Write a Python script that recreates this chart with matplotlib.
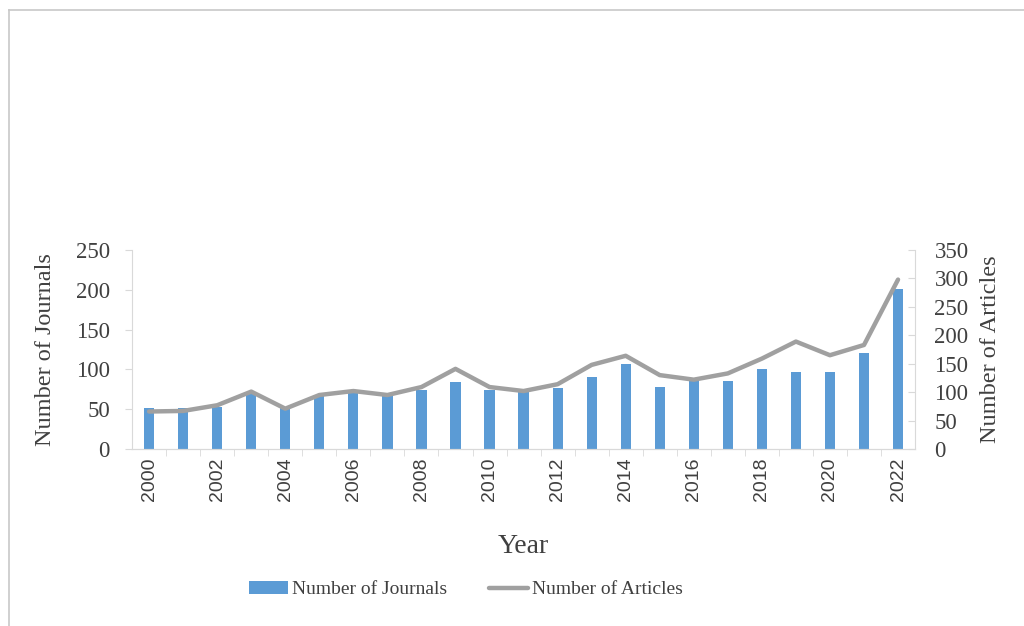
import matplotlib
matplotlib.use("Agg")
import matplotlib.pyplot as plt
from matplotlib.lines import Line2D

years = list(range(2000, 2023))
journals = [52, 51, 53, 69, 51, 68, 72, 66, 74, 84, 74, 73, 77, 91, 107, 78, 87, 85, 100, 97, 97, 121, 201]
articles = [66, 67, 77, 101, 71, 95, 102, 95, 109, 141, 109, 102, 114, 148, 164, 130, 122, 133, 159, 189, 165, 183, 298]

serif = "Liberation Serif"
sans = "Liberation Sans"
axis_gray = "#d9d9d9"
text_col = "#404040"

fig = plt.figure(figsize=(10.24, 6.26), dpi=100)
ax = fig.add_axes([0.129, 0.2827, 0.7646, 0.3179])
ax2 = ax.twinx()

x = list(range(len(years)))
bars = ax.bar(x, journals, width=0.3, color="#5b9bd5", zorder=2)
line, = ax2.plot(x, articles, color="#a0a0a0", linewidth=3.2, solid_capstyle="round", zorder=3)

ax.set_xlim(-0.5, len(years) - 0.5)
ax.set_ylim(0, 250)
ax2.set_ylim(0, 350)
ax.set_yticks(range(0, 251, 50))
ax2.set_yticks(range(0, 351, 50))

# year labels every other year, ticks between categories
ax.set_xticks(x[::2])
ax.set_xticklabels([str(y) for y in years[::2]], rotation=90, fontfamily=sans,
                   fontsize=14, color=text_col)
ax.tick_params(axis="x", length=0, pad=6)
ax.set_xticks([i + 0.5 for i in x[:-1]], minor=True)
ax.tick_params(axis="x", which="minor", length=5, color=axis_gray, direction="out")

ax.tick_params(axis="y", length=5, color=axis_gray, labelsize=16.5, pad=11)
ax2.tick_params(axis="y", length=5, color=axis_gray, direction="in", labelsize=16.5, pad=14)
for lab in ax.get_yticklabels() + ax2.get_yticklabels():
    lab.set_fontfamily(serif)
    lab.set_color(text_col)

for a in (ax, ax2):
    a.spines["top"].set_visible(False)
    for s in ("left", "right", "bottom"):
        a.spines[s].set_color(axis_gray)
ax.spines["right"].set_visible(False)
ax2.spines["left"].set_visible(False)

ax.set_xlabel("Year", fontfamily=serif, fontsize=20, color=text_col, labelpad=24)
ax.set_ylabel("Number of Journals", fontfamily=serif, fontsize=17.5, color=text_col, labelpad=14)
ax2.set_ylabel("Number of Articles", fontfamily=serif, fontsize=17.5, color=text_col, labelpad=8)

fig.legend([bars, line], ["Number of Journals", "Number of Articles"],
           loc="center", bbox_to_anchor=(0.455, 0.058), ncol=2, frameon=False,
           prop={"family": serif, "size": 14}, handlelength=2.0, handletextpad=0.2,
           columnspacing=2.2, labelcolor=text_col)

# outer frame of the image
fig.add_artist(Line2D([0.009, 0.009], [0.0, 0.984], transform=fig.transFigure, color="#c8c8c8", lw=1.2))
fig.add_artist(Line2D([0.009, 1.0], [0.984, 0.984], transform=fig.transFigure, color="#c8c8c8", lw=1.2))

fig.savefig("out.png", dpi=100)
